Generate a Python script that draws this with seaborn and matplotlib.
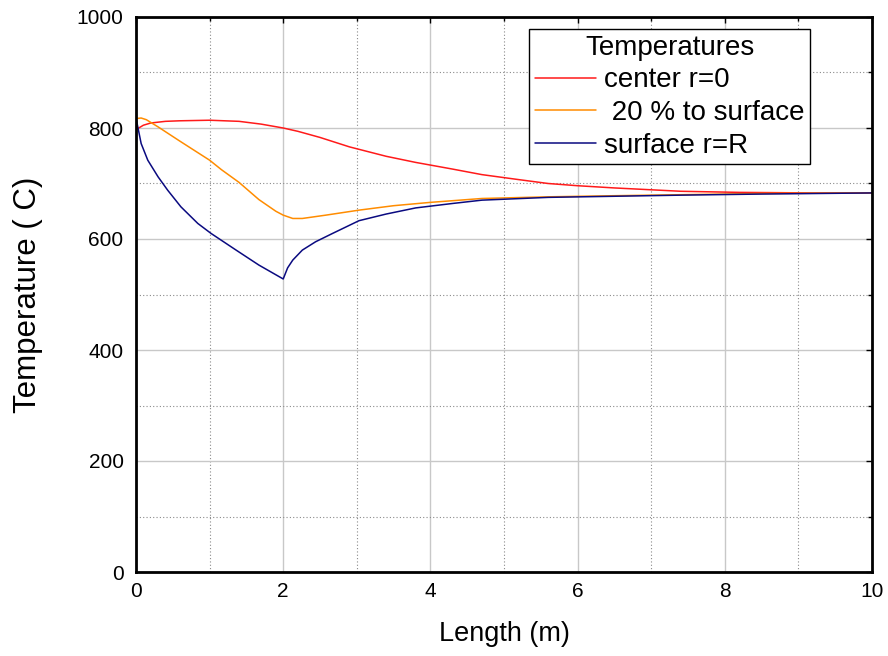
import numpy as np
import pandas as pd
import matplotlib
matplotlib.use("Agg")
import matplotlib.pyplot as plt
from matplotlib.ticker import MultipleLocator
import seaborn as sns

# values (length in m, temperature in C)
center_x = [0, 0.1, 0.2, 0.4, 0.6, 1.0, 1.4, 1.7, 2.0, 2.2, 2.5, 2.9, 3.4, 3.8,
            4.3, 4.7, 5.2, 5.6, 6.0, 6.5, 7.4, 8.2, 9.2, 10]
center_t = [797, 805, 809, 812, 813, 814, 812, 807, 800, 794, 783, 766, 749, 738,
            726, 716, 707, 700, 696, 692, 686, 684, 683, 683]

mid_x = [0, 0.07, 0.14, 0.3, 0.6, 1.0, 1.16, 1.4, 1.67, 1.9, 2.0, 2.13, 2.26,
         2.58, 3.03, 3.5, 4.0, 4.7, 5.6, 6.5, 7.5, 8.5, 10]
mid_t = [817, 818, 815, 802, 776, 742, 725, 702, 671, 650, 643, 637, 637,
         643, 652, 660, 666, 673, 676, 678, 680, 682, 683]

surf_x = [0, 0.07, 0.16, 0.3, 0.43, 0.61, 0.84, 1.02, 1.36, 1.67, 2.0, 2.06, 2.13,
          2.26, 2.44, 2.67, 3.03, 3.4, 3.8, 4.3, 4.7, 5.6, 6.5, 7.4, 8.5, 10]
surf_t = [818, 772, 742, 712, 688, 658, 628, 610, 580, 553, 528, 548, 562,
          580, 595, 610, 633, 645, 656, 664, 670, 675, 677, 679, 681, 683]

series = [
    ("center r=0", center_x, center_t, "#ff1a1a"),
    (" 20 % to surface", mid_x, mid_t, "#ff8c00"),
    ("surface r=R", surf_x, surf_t, "#0a0a80"),
]

sns.set_theme(style="white")
plt.rcParams["font.family"] = ["Liberation Sans", "DejaVu Sans"]
plt.rcParams["text.color"] = "black"
plt.rcParams["axes.labelcolor"] = "black"

fig = plt.figure(figsize=(8.88, 6.56), dpi=100)
ax = fig.add_axes([136 / 888, 1 - 572 / 656, 736 / 888, 555 / 656])

for name, xs, ts, col in series:
    df = pd.DataFrame({"Length": xs, "Temp": ts})
    sns.lineplot(data=df, x="Length", y="Temp", color=col, lw=1.1,
                 estimator=None, label=name, ax=ax)

ax.set_xlim(0, 10)
ax.set_ylim(0, 1000)
ax.xaxis.set_major_locator(MultipleLocator(2))
ax.xaxis.set_minor_locator(MultipleLocator(1))
ax.yaxis.set_major_locator(MultipleLocator(200))
ax.yaxis.set_minor_locator(MultipleLocator(100))

# solid light major grid, dotted darker minor grid
ax.set_axisbelow(True)
ax.grid(which="major", color="#c8c8c8", lw=1.0, ls="-")
ax.grid(which="minor", color="#8a8a8a", lw=0.8, ls=(0, (1, 2)))

for s in ax.spines.values():
    s.set_visible(True)
    s.set_color("black")
    s.set_linewidth(2)

ax.tick_params(which="both", direction="in", top=True, right=True,
               colors="black", labelsize=15, width=1)
ax.tick_params(which="major", length=4)
ax.tick_params(which="minor", length=3)
ax.tick_params(axis="y", pad=9)
ax.tick_params(axis="x", pad=7)

ax.set_xlabel("Length (m)", fontsize=19.5)
ax.set_ylabel("Temperature ( C)", fontsize=22.5)
ax.xaxis.label.set_va("center")
ax.yaxis.label.set_va("center")
ax.yaxis.label.set_ha("center")
ax.xaxis.set_label_coords(0.5, -(634 - 572) / 555)
ax.yaxis.set_label_coords((28 - 136) / 736, 0.5)

leg = ax.legend(title="Temperatures", loc="upper right",
                bbox_to_anchor=(0.916, 0.978), borderaxespad=0,
                fontsize=20, title_fontsize=20, frameon=True, fancybox=False,
                edgecolor="black", framealpha=1, handlelength=2.2,
                handletextpad=0.3, labelspacing=0.24, borderpad=0.2)
leg.get_frame().set_linewidth(1)

plt.savefig("out.png", dpi=100)
